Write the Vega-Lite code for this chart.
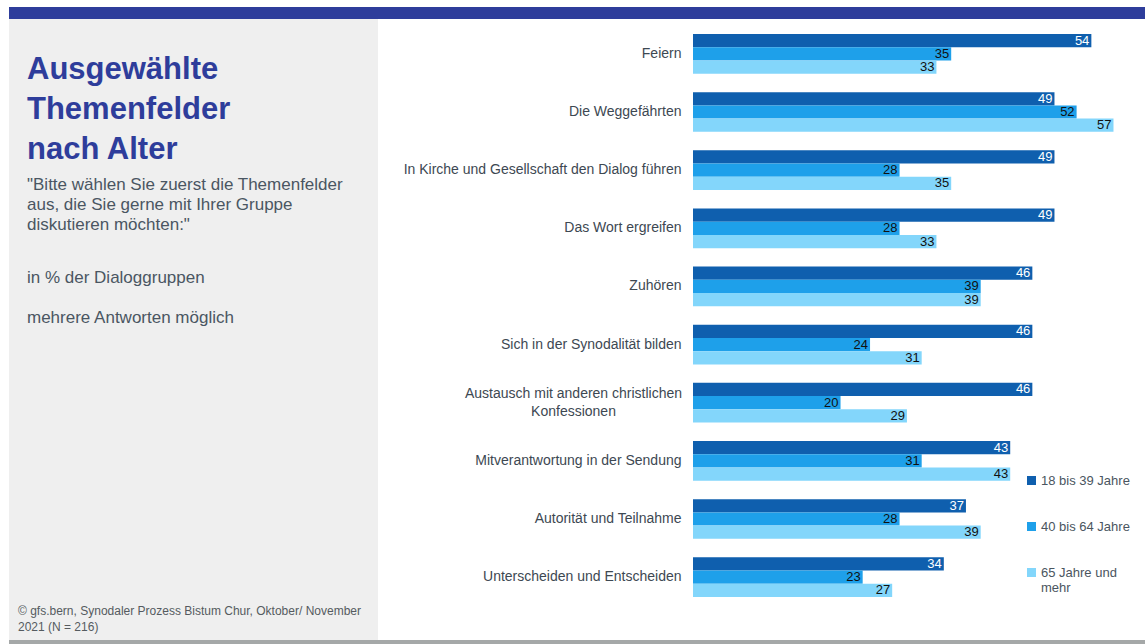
{
  "$schema": "https://vega.github.io/schema/vega-lite/v6.json",
  "padding": {"left": 9, "top": 7, "right": 0, "bottom": 0},
  "background": "white",
  "spacing": 0,
  "bounds": "full",
  "config": {
    "font": "Liberation Sans",
    "view": {"stroke": null}
  },
  "vconcat": [
    {
      "width": 1136,
      "height": 12,
      "data": {"values": [{}]},
      "mark": {"type": "rect", "opacity": 0},
      "encoding": {},
      "view": {"fill": "#2e3d9b", "stroke": null}
    },
    {
      "hconcat": [
        {
          "vconcat": [
            {
              "width": 369,
              "height": 240,
              "data": {"values": [{}]},
              "mark": {"type": "rect", "opacity": 0},
              "encoding": {},
              "view": {"fill": "#efefef", "stroke": null},
              "title": {
                "text": ["Ausgewählte", "Themenfelder", "nach Alter"],
                "subtitle": ["\"Bitte wählen Sie zuerst die Themenfelder", "aus, die Sie gerne mit Ihrer Gruppe", "diskutieren möchten:\""],
                "anchor": "start",
                "orient": "top",
                "frame": "group",
                "offset": -215,
                "dx": 18,
                "font": "Liberation Sans",
                "fontSize": 31,
                "fontWeight": "bold",
                "color": "#2e3d9b",
                "lineHeight": 40,
                "subtitleFont": "Liberation Sans",
                "subtitleFontSize": 17,
                "subtitleColor": "#4a5662",
                "subtitleLineHeight": 20,
                "subtitlePadding": 11
              }
            },
            {
              "width": 369,
              "height": 345,
              "data": {"values": [{}]},
              "mark": {"type": "rect", "opacity": 0},
              "encoding": {},
              "view": {"fill": "#efefef", "stroke": null},
              "title": {
                "text": ["in % der Dialoggruppen", "mehrere Antworten möglich"],
                "anchor": "start",
                "orient": "top",
                "frame": "group",
                "offset": -68,
                "dx": 18,
                "font": "Liberation Sans",
                "fontSize": 17,
                "fontWeight": "normal",
                "color": "#4a5662",
                "lineHeight": 40
              }
            },
            {
              "width": 369,
              "height": 36,
              "data": {"values": [{}]},
              "mark": {"type": "rect", "opacity": 0},
              "encoding": {},
              "view": {"fill": "#efefef", "stroke": null},
              "title": {
                "text": ["© gfs.bern, Synodaler Prozess Bistum Chur, Oktober/ November", "2021 (N = 216)"],
                "anchor": "start",
                "orient": "top",
                "frame": "group",
                "offset": -30,
                "dx": 9,
                "font": "Liberation Sans",
                "fontSize": 12,
                "fontWeight": "normal",
                "color": "#555b60",
                "lineHeight": 16
              }
            }
          ],
          "spacing": 0,
          "bounds": "flush"
        },
        {
          "width": 450,
          "height": 593,
          "data": {
            "values": [
              {"theme": "Feiern", "group": "18 bis 39 Jahre", "value": 54},
              {"theme": "Feiern", "group": "40 bis 64 Jahre", "value": 35},
              {"theme": "Feiern", "group": "65 Jahre und mehr", "value": 33},
              {"theme": "Die Weggefährten", "group": "18 bis 39 Jahre", "value": 49},
              {"theme": "Die Weggefährten", "group": "40 bis 64 Jahre", "value": 52},
              {"theme": "Die Weggefährten", "group": "65 Jahre und mehr", "value": 57},
              {"theme": "In Kirche und Gesellschaft den Dialog führen", "group": "18 bis 39 Jahre", "value": 49},
              {"theme": "In Kirche und Gesellschaft den Dialog führen", "group": "40 bis 64 Jahre", "value": 28},
              {"theme": "In Kirche und Gesellschaft den Dialog führen", "group": "65 Jahre und mehr", "value": 35},
              {"theme": "Das Wort ergreifen", "group": "18 bis 39 Jahre", "value": 49},
              {"theme": "Das Wort ergreifen", "group": "40 bis 64 Jahre", "value": 28},
              {"theme": "Das Wort ergreifen", "group": "65 Jahre und mehr", "value": 33},
              {"theme": "Zuhören", "group": "18 bis 39 Jahre", "value": 46},
              {"theme": "Zuhören", "group": "40 bis 64 Jahre", "value": 39},
              {"theme": "Zuhören", "group": "65 Jahre und mehr", "value": 39},
              {"theme": "Sich in der Synodalität bilden", "group": "18 bis 39 Jahre", "value": 46},
              {"theme": "Sich in der Synodalität bilden", "group": "40 bis 64 Jahre", "value": 24},
              {"theme": "Sich in der Synodalität bilden", "group": "65 Jahre und mehr", "value": 31},
              {"theme": "Austausch mit anderen christlichen Konfessionen", "group": "18 bis 39 Jahre", "value": 46},
              {"theme": "Austausch mit anderen christlichen Konfessionen", "group": "40 bis 64 Jahre", "value": 20},
              {"theme": "Austausch mit anderen christlichen Konfessionen", "group": "65 Jahre und mehr", "value": 29},
              {"theme": "Mitverantwortung in der Sendung", "group": "18 bis 39 Jahre", "value": 43},
              {"theme": "Mitverantwortung in der Sendung", "group": "40 bis 64 Jahre", "value": 31},
              {"theme": "Mitverantwortung in der Sendung", "group": "65 Jahre und mehr", "value": 43},
              {"theme": "Autorität und Teilnahme", "group": "18 bis 39 Jahre", "value": 37},
              {"theme": "Autorität und Teilnahme", "group": "40 bis 64 Jahre", "value": 28},
              {"theme": "Autorität und Teilnahme", "group": "65 Jahre und mehr", "value": 39},
              {"theme": "Unterscheiden und Entscheiden", "group": "18 bis 39 Jahre", "value": 34},
              {"theme": "Unterscheiden und Entscheiden", "group": "40 bis 64 Jahre", "value": 23},
              {"theme": "Unterscheiden und Entscheiden", "group": "65 Jahre und mehr", "value": 27}
            ]
          },
          "encoding": {
            "y": {
              "field": "theme",
              "type": "nominal",
              "sort": null,
              "scale": {"paddingInner": 0.317, "paddingOuter": 0.258},
              "axis": {
                "title": null,
                "ticks": false,
                "domain": false,
                "labelPadding": {"condition": {"test": "datum.value == 'Austausch mit anderen christlichen Konfessionen'", "value": 120}, "value": 12},
                "labelAlign": {"condition": {"test": "datum.value == 'Austausch mit anderen christlichen Konfessionen'", "value": "center"}, "value": "right"},
                "labelFontSize": 14,
                "labelColor": "#3d4852",
                "labelLimit": 400,
                "labelLineHeight": 18,
                "labelOffset": {"condition": {"test": "datum.value == 'Austausch mit anderen christlichen Konfessionen'", "value": -9}, "value": 0},
                "labelExpr": "datum.value == 'Austausch mit anderen christlichen Konfessionen' ? ['Austausch mit anderen christlichen', 'Konfessionen'] : datum.label"
              }
            },
            "yOffset": {"field": "group", "type": "nominal", "sort": null, "scale": {"paddingInner": 0, "paddingOuter": 0}},
            "x": {"field": "value", "type": "quantitative", "scale": {"domain": [0, 61], "nice": false}, "axis": null}
          },
          "layer": [
            {
              "mark": {"type": "bar"},
              "encoding": {
                "color": {
                  "field": "group",
                  "type": "nominal",
                  "sort": null,
                  "scale": {"domain": ["18 bis 39 Jahre", "40 bis 64 Jahre", "65 Jahre und mehr"], "range": ["#0f5fae", "#1ea0ea", "#83d6fb"]},
                  "legend": {
                    "title": null,
                    "orient": "none",
                    "legendX": 1016,
                    "legendY": 467,
                    "padding": 0,
                    "symbolType": "square",
                    "symbolSize": 81,
                    "symbolStrokeWidth": 0,
                    "labelFontSize": 13,
                    "labelColor": "#4a5560",
                    "labelOffset": 3,
                    "rowPadding": 32,
                    "labelExpr": "datum.label == '65 Jahre und mehr' ? ['65 Jahre und', 'mehr'] : datum.label"
                  }
                }
              }
            },
            {
              "mark": {"type": "text", "align": "right", "baseline": "middle", "dx": -2, "fontSize": 13},
              "encoding": {
                "text": {"field": "value", "type": "quantitative"},
                "color": {"condition": {"test": "datum.group === '18 bis 39 Jahre'", "value": "white"}, "value": "#111111"}
              }
            }
          ]
        }
      ],
      "spacing": 684,
      "bounds": "flush"
    },
    {
      "width": 1136,
      "height": 4,
      "data": {"values": [{}]},
      "mark": {"type": "rect", "opacity": 0},
      "encoding": {},
      "view": {"fill": "#a5a8a8", "stroke": null}
    }
  ]
}
